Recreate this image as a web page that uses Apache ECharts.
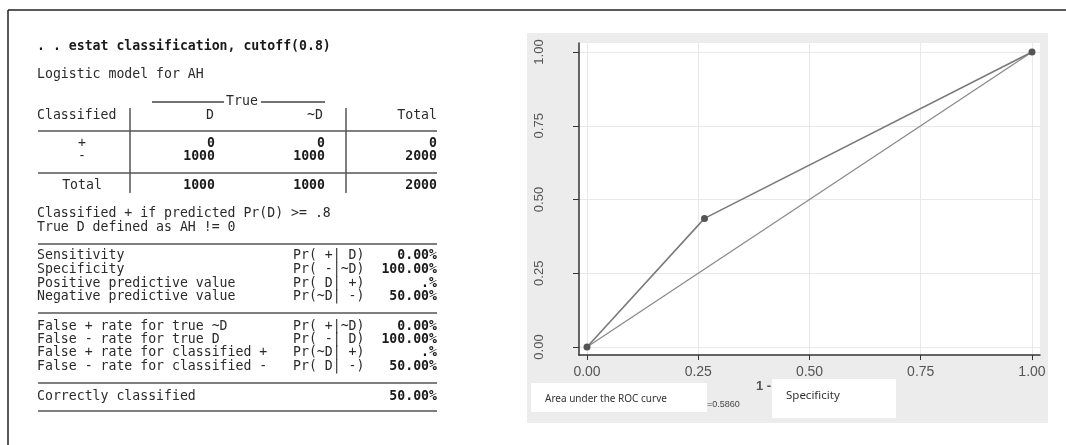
<!DOCTYPE html>
<html>
<head>
<meta charset="utf-8">
<script src="https://cdn.jsdelivr.net/npm/echarts@6/dist/echarts.min.js"></script>
<style>
  html, body { margin: 0; padding: 0; background: #fff; }
  #main { width: 1066px; height: 445px; }
</style>
</head>
<body>
<div id="main"></div>
<script>
// ROC points (1 - specificity, sensitivity)
var rocX = [0, 0.264, 1];
var rocY = [0, 0.436, 1];
// reference diagonal
var refX = [0, 1];
var refY = [0, 1];
var axisTicks = [0, 0.25, 0.5, 0.75, 1];
var aucValue = '0.5860';

// estat classification output
var cmdLine = '. . estat classification, cutoff(0.8)';
var modelLine = 'Logistic model for AH';
var colHeads = ['D', '~D', 'Total'];
var rowHeads = ['+', '-', 'Total'];
var countsD = [0, 1000, 1000];
var countsNotD = [0, 1000, 1000];
var countsTotal = [0, 2000, 2000];
var noteLines = ['Classified + if predicted Pr(D) >= .8', 'True D defined as AH != 0'];
var statLabels = [
    ['Sensitivity', 'Specificity', 'Positive predictive value', 'Negative predictive value'],
    ['False + rate for true ~D', 'False - rate for true D', 'False + rate for classified +', 'False - rate for classified -'],
    ['Correctly classified']
];
var statProbs = [
    ['Pr( +| D)', 'Pr( -|~D)', 'Pr( D| +)', 'Pr(~D| -)'],
    ['Pr( +|~D)', 'Pr( -| D)', 'Pr(~D| +)', 'Pr( D| -)'],
    ['']
];
var statValues = [
    ['0.00%', '100.00%', '.%', '50.00%'],
    ['0.00%', '100.00%', '.%', '50.00%'],
    ['50.00%']
];

var MONO = '"DejaVu Sans Mono", "Liberation Mono", monospace';
var SANS = '"Liberation Sans", Arial, sans-serif';
var FS = '13.2px ';

function txt(x, y, s, opt) {
    opt = opt || {};
    return {
        type: 'text',
        z: 1,
        style: {
            x: x, y: y, text: s,
            fill: opt.fill || '#2a2a2a',
            font: opt.font || (FS + MONO),
            align: opt.align || 'left',
            textAlign: opt.align || 'left',
            verticalAlign: 'middle',
            textVerticalAlign: 'middle'
        }
    };
}
function hline(x1, x2, y, color) {
    return { type: 'line', z: 1, shape: { x1: x1, y1: y, x2: x2, y2: y }, style: { stroke: color || '#555', lineWidth: 1.5 } };
}
function vline(x, y1, y2) {
    return { type: 'line', z: 1, shape: { x1: x, y1: y1, x2: x, y2: y2 }, style: { stroke: '#555', lineWidth: 1.5 } };
}

var g = [];
// outer frame
g.push({ type: 'line', z: 1, shape: { x1: 8, y1: 10, x2: 1066, y2: 10 }, style: { stroke: '#222', lineWidth: 1.5 } });
g.push({ type: 'line', z: 1, shape: { x1: 8, y1: 10, x2: 8, y2: 445 }, style: { stroke: '#222', lineWidth: 1.5 } });

// left: table text
var L = 37, R = 437;
var BOLD = 'bold ' + FS + MONO;
g.push(txt(L, 47, cmdLine, { font: BOLD, fill: '#1a1a1a' }));
g.push(txt(L, 75, modelLine));
g.push(hline(152, 224, 102, '#444'));
g.push(txt(242, 102, 'True', { align: 'center' }));
g.push(hline(261, 325, 102, '#444'));
g.push(txt(L, 116, 'Classified'));
g.push(txt(210, 116, colHeads[0], { align: 'center' }));
g.push(txt(323, 116, colHeads[1], { align: 'right' }));
g.push(txt(R, 116, colHeads[2], { align: 'right' }));
g.push(hline(38, R, 131));
g.push(vline(130, 108, 193));
g.push(vline(346, 108, 193));
var rowY = [144, 157, 186];
for (var i = 0; i < rowHeads.length; i++) {
    g.push(txt(82, rowY[i], rowHeads[i], { align: 'center' }));
    g.push(txt(215, rowY[i], String(countsD[i]), { align: 'right', font: BOLD, fill: '#1a1a1a' }));
    g.push(txt(325, rowY[i], String(countsNotD[i]), { align: 'right', font: BOLD, fill: '#1a1a1a' }));
    g.push(txt(R, rowY[i], String(countsTotal[i]), { align: 'right', font: BOLD, fill: '#1a1a1a' }));
}
g.push(hline(38, R, 173));
g.push(txt(L, 214, noteLines[0]));
g.push(txt(L, 228, noteLines[1]));

var blockTop = [244, 313, 383];
var blockRows = [[256, 270, 284, 297], [327, 340, 353, 367], [397]];
for (var b = 0; b < statLabels.length; b++) {
    g.push(hline(38, R, blockTop[b]));
    for (var k = 0; k < statLabels[b].length; k++) {
        var y = blockRows[b][k];
        g.push(txt(L, y, statLabels[b][k]));
        if (statProbs[b][k]) g.push(txt(293, y, statProbs[b][k]));
        g.push(txt(R, y, statValues[b][k], { align: 'right', font: BOLD, fill: '#1a1a1a' }));
    }
}
g.push(hline(38, R, 411));

// right: grey panel behind plot
g.push({ type: 'rect', z: -1, shape: { x: 527, y: 33, width: 521, height: 390 }, style: { fill: '#ececec' } });
// annotation boxes
g.push({ type: 'rect', z: 1, shape: { x: 531, y: 383, width: 176, height: 29 }, style: { fill: '#fff' } });
g.push(txt(545, 399, 'Area under the ROC curve', { font: '10px "Noto Sans", sans-serif', fill: '#333' }));
g.push(txt(707, 405, '=' + aucValue, { font: '9px ' + SANS, fill: '#444' }));
g.push(txt(756, 386, '1 -', { font: 'bold 13px ' + SANS, fill: '#555' }));
g.push({ type: 'rect', z: 1, shape: { x: 772, y: 379, width: 124, height: 39 }, style: { fill: '#fff' } });
g.push(txt(786, 396, 'Specificity', { font: '11.5px "Noto Sans", sans-serif', fill: '#333' }));

var chart = echarts.init(document.getElementById('main'), null, { renderer: 'canvas' });
chart.setOption({
    animation: false,
    backgroundColor: '#fff',
    grid: {
        left: 579, top: 43, width: 461, height: 312,
        show: true, backgroundColor: '#fff', borderWidth: 0
    },
    xAxis: {
        type: 'value', min: -0.018, max: 1.018,
        axisLine: { show: true, onZero: false, lineStyle: { color: '#333', width: 1.5 } },
        axisTick: { show: true, length: 5, customValues: axisTicks, lineStyle: { color: '#333' } },
        axisLabel: {
            customValues: axisTicks, margin: 10, color: '#555',
            fontFamily: SANS, fontSize: 14,
            formatter: function (v) { return v.toFixed(2); }
        },
        splitLine: { show: true, lineStyle: { color: '#e8e8e8', width: 1 } }
    },
    yAxis: {
        type: 'value', min: -0.027, max: 1.0305,
        axisLine: { show: true, onZero: false, lineStyle: { color: '#333', width: 1.5 } },
        axisTick: { show: true, length: 6, customValues: axisTicks, lineStyle: { color: '#333' } },
        axisLabel: {
            customValues: axisTicks, margin: 33, rotate: 90, color: '#555',
            fontFamily: SANS, fontSize: 13,
            formatter: function (v) { return v.toFixed(2); }
        },
        splitLine: { show: true, lineStyle: { color: '#e8e8e8', width: 1 } }
    },
    series: [{
        type: 'line',
        data: refX.map(function (x, i) { return [x, refY[i]]; }),
        symbol: 'none',
        lineStyle: { color: '#8a8a8a', width: 1.3 },
        z: 3
    }, {
        type: 'line',
        data: rocX.map(function (x, i) { return [x, rocY[i]]; }),
        symbol: 'circle', symbolSize: 7,
        itemStyle: { color: '#555' },
        lineStyle: { color: '#7a7a7a', width: 1.6 },
        z: 4
    }],
    graphic: g
});
</script>
</body>
</html>
